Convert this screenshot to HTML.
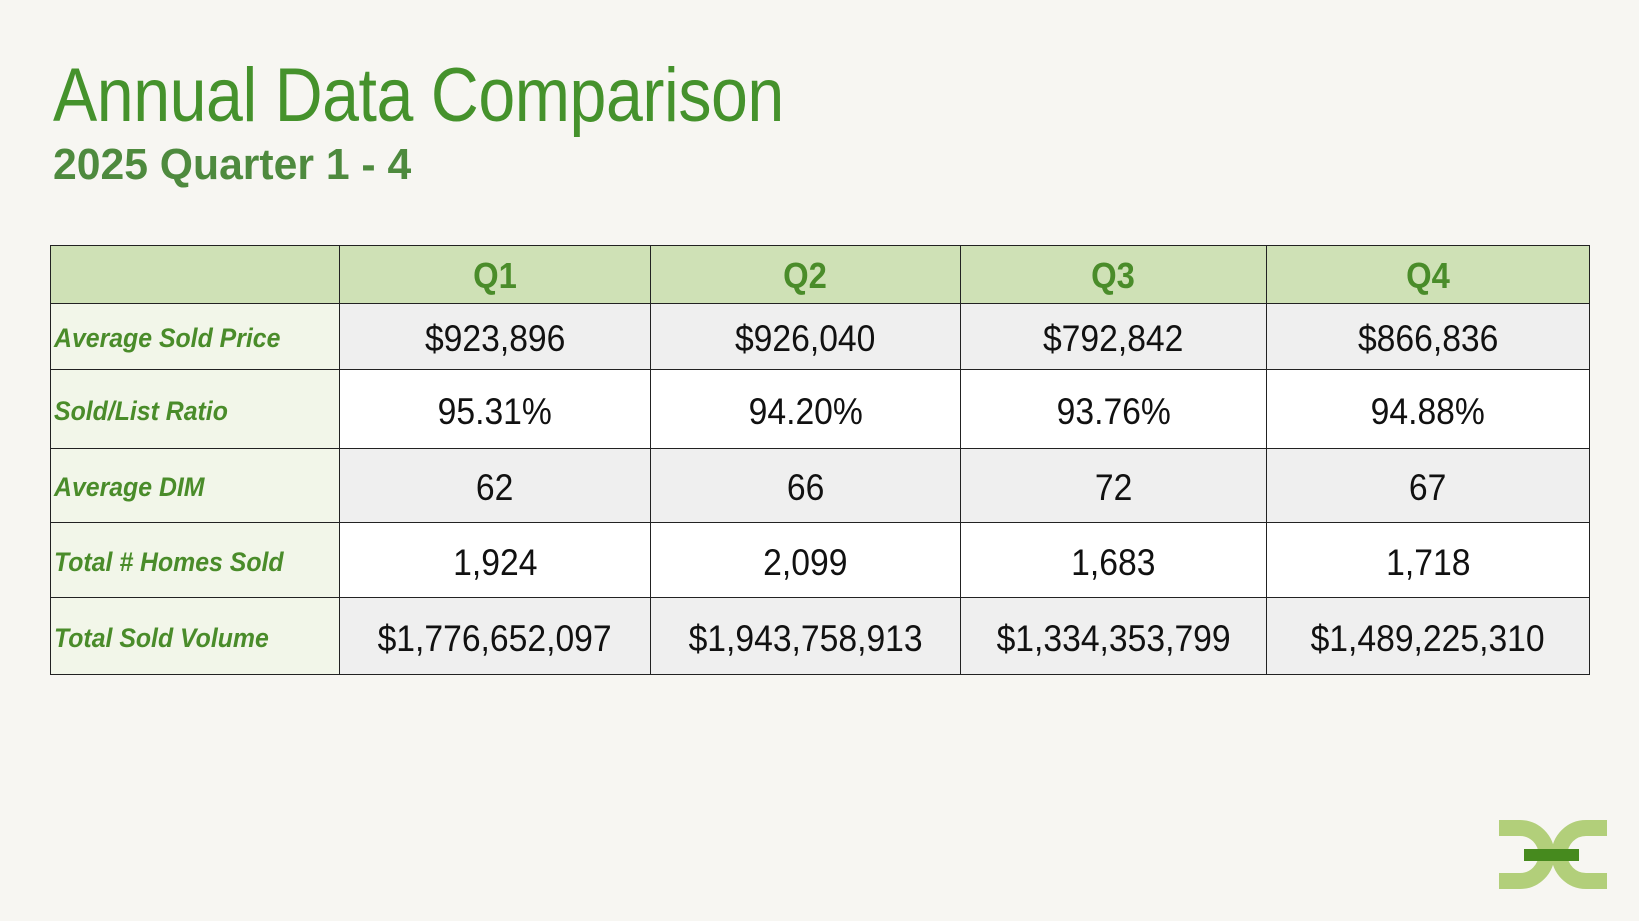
<!DOCTYPE html>
<html><head><meta charset="utf-8"><style>
html,body{margin:0;padding:0;}
body{width:1639px;height:921px;background:#f7f6f2;position:relative;overflow:hidden;font-family:"Liberation Sans",sans-serif;}
.title{position:absolute;left:53px;top:52px;font-size:76px;color:#45922c;white-space:nowrap;transform-origin:0 0;transform:scaleX(0.872);font-weight:normal;letter-spacing:-0.5px}
.sub{position:absolute;left:53px;top:140px;font-size:44px;font-weight:bold;color:#4e8a3e;white-space:nowrap;transform-origin:0 0;transform:scaleX(0.97)}
table{position:absolute;left:50px;top:245px;border-collapse:collapse;table-layout:fixed;width:1539px;}
td,th{border:1.5px solid #222;padding:0;text-align:center;white-space:nowrap;overflow:hidden}
th{background:#cfe1b6;color:#4a8c2a;font-size:36px;font-weight:bold;height:54px;padding-top:3px}
td.l{background:#f2f6e9;color:#4a8c2a;font-weight:bold;font-style:italic;font-size:27px;text-align:left;padding-left:3px;padding-top:4px}
td.v{font-size:37px;color:#111;padding-top:5px}
tr.g td.v{background:#efefef}
tr.w td.v{background:#fff}
.n{display:inline-block;transform:scaleX(0.91)}
.ln{display:inline-block;transform:scaleX(0.92);transform-origin:0 50%}
</style></head><body>
<div class="title">Annual Data Comparison</div>
<div class="sub">2025 Quarter 1 - 4</div>
<table>
<colgroup><col style="width:289px"><col style="width:311px"><col style="width:310px"><col style="width:306px"><col style="width:323px"></colgroup>
<tr><th></th><th><span class="n">Q1</span></th><th><span class="n">Q2</span></th><th><span class="n">Q3</span></th><th><span class="n">Q4</span></th></tr>
<tr class="g" style="height:66px"><td class="l"><span class="ln">Average Sold Price</span></td><td class="v"><span class="n">$923,896</span></td><td class="v"><span class="n">$926,040</span></td><td class="v"><span class="n">$792,842</span></td><td class="v"><span class="n">$866,836</span></td></tr>
<tr class="w" style="height:79px"><td class="l"><span class="ln">Sold/List Ratio</span></td><td class="v"><span class="n">95.31%</span></td><td class="v"><span class="n">94.20%</span></td><td class="v"><span class="n">93.76%</span></td><td class="v"><span class="n">94.88%</span></td></tr>
<tr class="g" style="height:74px"><td class="l"><span class="ln">Average DIM</span></td><td class="v"><span class="n">62</span></td><td class="v"><span class="n">66</span></td><td class="v"><span class="n">72</span></td><td class="v"><span class="n">67</span></td></tr>
<tr class="w" style="height:75px"><td class="l"><span class="ln">Total # Homes Sold</span></td><td class="v"><span class="n">1,924</span></td><td class="v"><span class="n">2,099</span></td><td class="v"><span class="n">1,683</span></td><td class="v"><span class="n">1,718</span></td></tr>
<tr class="g" style="height:77px"><td class="l"><span class="ln">Total Sold Volume</span></td><td class="v"><span class="n">$1,776,652,097</span></td><td class="v"><span class="n">$1,943,758,913</span></td><td class="v"><span class="n">$1,334,353,799</span></td><td class="v"><span class="n">$1,489,225,310</span></td></tr>
</table>
<svg style="position:absolute;left:0;top:0" width="1639" height="921">
<path d="M1499,828 H1520 A26.5,26.5 0 0 1 1520,881 H1499" fill="none" stroke="#b2cf7a" stroke-width="16"/>
<path d="M1607,828 H1586 A26.5,26.5 0 0 0 1586,881 H1607" fill="none" stroke="#b2cf7a" stroke-width="16"/>
<rect x="1524" y="849" width="55" height="12" fill="#468a1e"/>
</svg>
</body></html>
